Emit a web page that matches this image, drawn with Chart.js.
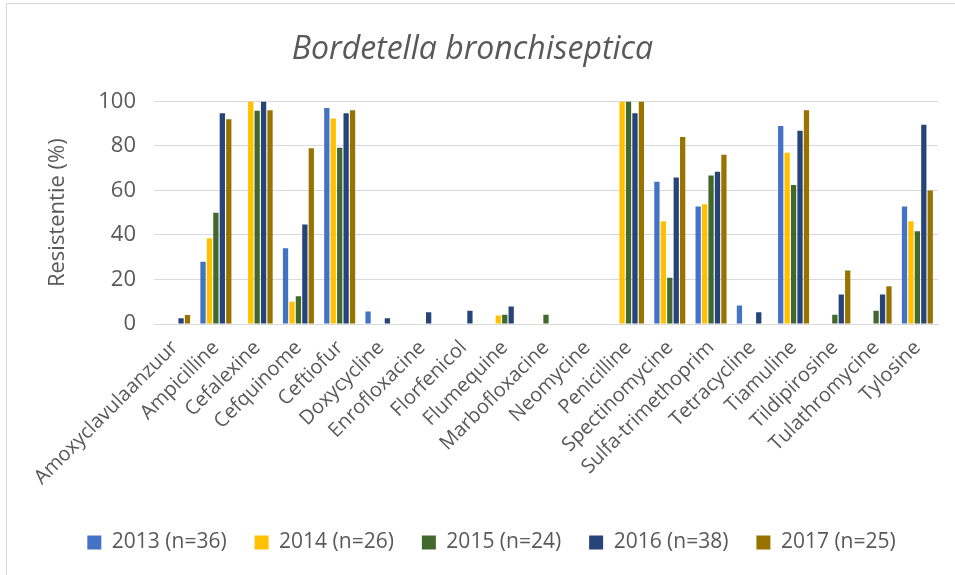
<!DOCTYPE html>
<html>
<head>
<meta charset="utf-8">
<script src="https://cdn.jsdelivr.net/npm/chart.js@4.4.1/dist/chart.umd.min.js"></script>
<style>
    html, body { margin: 0; padding: 0; background: #fff; }
    #wrap { position: relative; width: 955px; height: 575px; }
    #frame { position: absolute; left: 6px; top: 3px; width: 960px; height: 600px; border: 1px solid #d9d9d9; box-sizing: border-box; pointer-events: none; }
</style>
</head>
<body>
<div id="wrap">
    <canvas id="resistChart" width="955" height="575"></canvas>
    <div id="frame"></div>
</div>
<script>
var antibiotics = ["Amoxyclavulaanzuur", "Ampicilline", "Cefalexine", "Cefquinome", "Ceftiofur",
    "Doxycycline", "Enrofloxacine", "Florfenicol", "Flumequine", "Marbofloxacine", "Neomycine",
    "Penicilline", "Spectinomycine", "Sulfa-trimethoprim", "Tetracycline", "Tiamuline",
    "Tildipirosine", "Tulathromycine", "Tylosine"];

var res2013 = [0, 28, 0, 34, 97, 5.6, 0, 0, 0, 0, 0, 0, 63.9, 52.8, 8.3, 88.9, 0, 0, 52.8];
var res2014 = [0, 38.5, 100, 10, 92.3, 0, 0, 0, 3.8, 0, 0, 100, 46.2, 53.8, 0, 76.9, 0, 0, 46.2];
var res2015 = [0, 50, 95.8, 12.5, 79.2, 0, 0, 0, 4.2, 4.2, 0, 100, 20.8, 66.7, 0, 62.5, 4.2, 6, 41.7];
var res2016 = [2.6, 94.7, 100, 44.7, 94.7, 2.6, 5.3, 6, 7.9, 0, 0, 94.7, 65.8, 68.4, 5.3, 86.8, 13.2, 13.2, 89.5];
var res2017 = [4, 92, 96, 79, 96, 0, 0, 0, 0, 0, 0, 100, 84, 76, 0, 96, 24, 17, 60];

var yTicks = [0, 20, 40, 60, 80, 100];

var textColor = "#595959";
var fontFamily = "'Open Sans', 'Noto Sans', sans-serif";

function makeSet(label, data, color) {
    return {
        label: label,
        data: data,
        backgroundColor: color,
        borderWidth: 0,
        categoryPercentage: 0.78,
        barPercentage: 0.82
    };
}

// nudge the legend a bit to the right, like the original
var legendShift = {
    id: "legendShift",
    afterLayout: function (chart) {
        if (!chart.legend) return;
        chart.legend.left += 19;
        chart.legend.right += 19;
    }
};

var ctx = document.getElementById("resistChart");

new Chart(ctx, {
    type: "bar",
    data: {
        labels: antibiotics,
        datasets: [
            makeSet("2013 (n=36)", res2013, "#4472C4"),
            makeSet("2014 (n=26)", res2014, "#FFC000"),
            makeSet("2015 (n=24)", res2015, "#43682B"),
            makeSet("2016 (n=38)", res2016, "#264478"),
            makeSet("2017 (n=25)", res2017, "#997300")
        ]
    },
    options: {
        responsive: false,
        animation: false,
        layout: {
            padding: { left: 7, right: 17, top: 4, bottom: 12 }
        },
        plugins: {
            title: {
                display: true,
                text: "Bordetella bronchiseptica",
                color: textColor,
                font: { family: fontFamily, size: 32, style: "italic", weight: "normal" },
                padding: { top: 27, bottom: 32 }
            },
            legend: {
                position: "bottom",
                labels: {
                    color: textColor,
                    font: { family: fontFamily, size: 21 },
                    boxWidth: 14,
                    boxHeight: 14,
                    padding: 28
                }
            },
            tooltip: { enabled: false }
        },
        scales: {
            x: {
                grid: { display: false },
                border: { display: true, color: "#d9d9d9" },
                ticks: {
                    color: textColor,
                    font: { family: fontFamily, size: 20 },
                    minRotation: 45,
                    maxRotation: 45,
                    autoSkip: false,
                    padding: 4
                },
                afterFit: function (scale) { scale.height = 180; }
            },
            y: {
                min: 0,
                max: 100,
                afterBuildTicks: function (scale) {
                    scale.ticks = yTicks.map(function (v) { return { value: v }; });
                },
                grid: { color: "#d9d9d9", drawTicks: false },
                border: { display: false },
                ticks: {
                    color: textColor,
                    font: { family: fontFamily, size: 22 },
                    padding: 18
                },
                title: {
                    display: true,
                    text: "Resistentie (%)",
                    color: textColor,
                    font: { family: fontFamily, size: 22 },
                    padding: { top: 38, bottom: 8 }
                },
                afterFit: function (scale) { scale.width = 147; }
            }
        }
    },
    plugins: [legendShift]
});
</script>
</body>
</html>
